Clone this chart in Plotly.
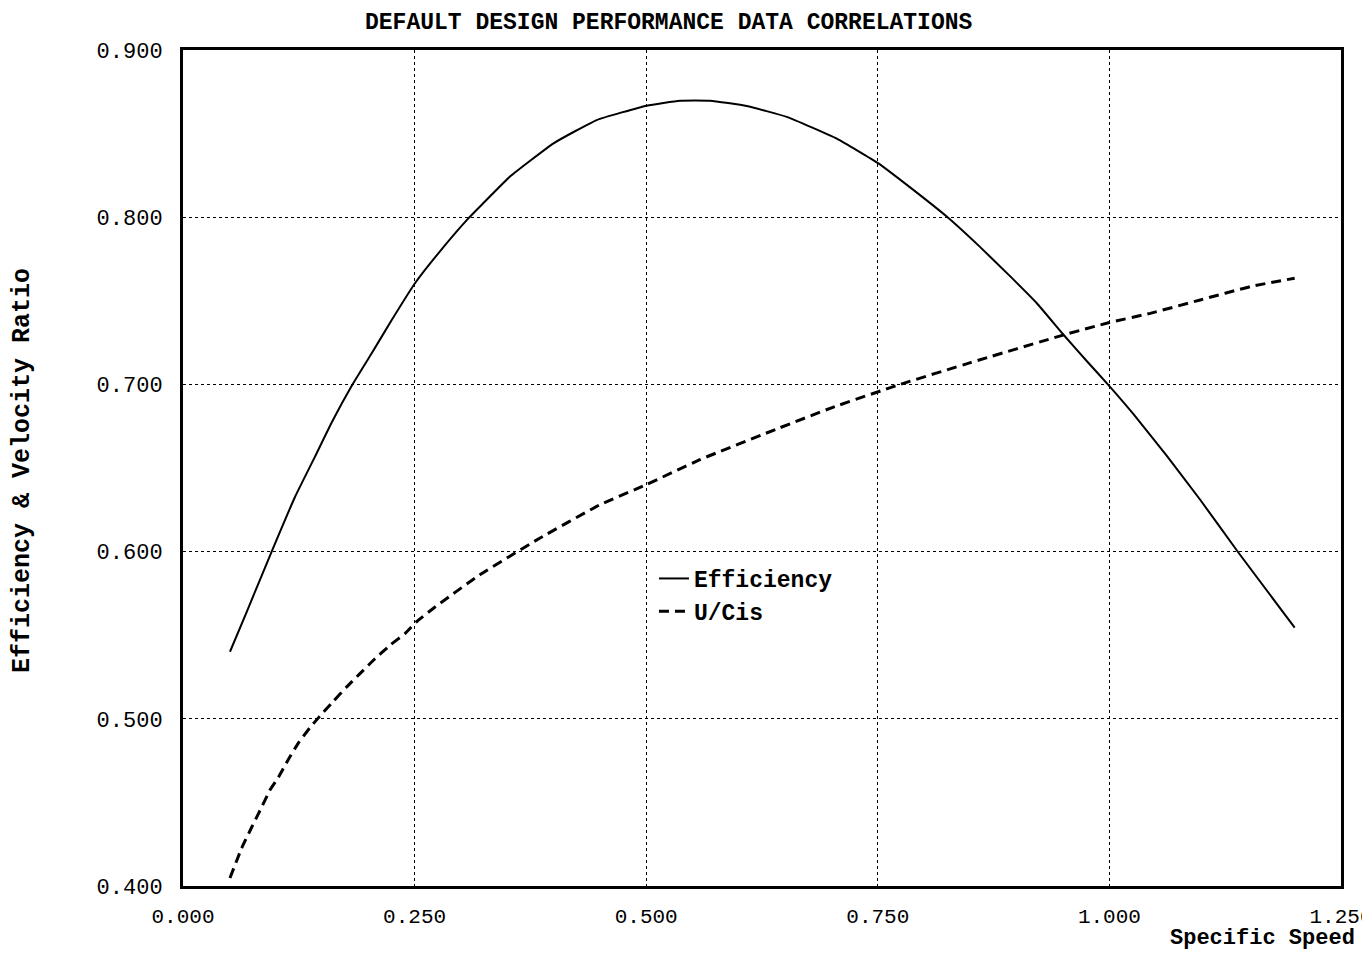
import plotly.graph_objects as go

# Data
specific_speed_eff = [0.0507, 0.0688, 0.0957, 0.121, 0.1425, 0.1605, 0.182, 0.2037, 0.2253,
                      0.2504, 0.2756, 0.308, 0.324, 0.353, 0.400, 0.4466, 0.5005, 0.5365,
                      0.5689, 0.6085, 0.6517, 0.7057, 0.7506, 0.788, 0.8244, 0.860, 0.893,
                      0.921, 0.950, 0.9755, 1.000, 1.026, 1.062, 1.098, 1.139, 1.200]
efficiency = [0.5401, 0.564, 0.600, 0.6328, 0.6568, 0.6772, 0.699, 0.7186, 0.7385,
              0.7605, 0.7784, 0.7993, 0.8083, 0.8243, 0.8442, 0.8581, 0.8667, 0.8697,
              0.8697, 0.8665, 0.8600, 0.8470, 0.8322, 0.8165, 0.8004, 0.7824, 0.7646,
              0.7490, 0.7300, 0.7140, 0.699, 0.6822, 0.6572, 0.6310, 0.5996, 0.5545]

specific_speed_ucis = [0.0507, 0.0634, 0.074, 0.083, 0.094, 0.103, 0.114, 0.1245, 0.137,
                       0.1468, 0.162, 0.1765, 0.191, 0.2055, 0.2235, 0.2396, 0.252, 0.27,
                       0.32, 0.385, 0.45, 0.50, 0.558, 0.644, 0.70, 0.774, 0.85, 0.950,
                       1.000, 1.044, 1.098, 1.152, 1.200]
u_cis = [0.4048, 0.4227, 0.435, 0.445, 0.4575, 0.465, 0.476, 0.4855, 0.4947,
         0.501, 0.5103, 0.519, 0.527, 0.535, 0.544, 0.551, 0.558, 0.566,
         0.586, 0.608, 0.628, 0.640, 0.655, 0.674, 0.686, 0.700, 0.713, 0.7295,
         0.737, 0.7425, 0.7505, 0.7585, 0.7635]

x_ticks = [0.0, 0.25, 0.5, 0.75, 1.0, 1.25]
x_tick_labels = ["0.000", "0.250", "0.500", "0.750", "1.000", "1.250"]
y_ticks = [0.4, 0.5, 0.6, 0.7, 0.8, 0.9]
y_tick_labels = ["0.400", "0.500", "0.600", "0.700", "0.800", "0.900"]

FONT = "Liberation Mono"

fig = go.Figure()
fig.add_trace(go.Scatter(x=specific_speed_eff, y=efficiency, mode="lines", name="Efficiency",
                         line=dict(color="black", width=2, shape="spline", smoothing=0.4)))
fig.add_trace(go.Scatter(x=specific_speed_ucis, y=u_cis, mode="lines", name="U/Cis",
                         line=dict(color="black", width=3, dash="10px,6px", shape="spline",
                                   smoothing=0.4)))

axis_common = dict(showline=True, linecolor="black", linewidth=3, mirror=True,
                   showgrid=True, gridcolor="black", gridwidth=1, griddash="dot",
                   zeroline=False, ticks="", automargin=False)

fig.update_xaxes(range=[0, 1.25], tickvals=x_ticks, ticktext=x_tick_labels,
                 ticklabelstandoff=9, ticklabeloverflow="allow",
                 tickfont=dict(family=FONT, size=21, color="black"), **axis_common)
fig.update_yaxes(range=[0.4, 0.9], tickvals=y_ticks, ticktext=y_tick_labels,
                 ticklabelstandoff=13,
                 tickfont=dict(family=FONT, size=22, color="black"), **axis_common)

fig.update_layout(
    width=1354, height=945,
    margin=dict(l=175, r=21, t=42, b=67),
    plot_bgcolor="white", paper_bgcolor="white",
    showlegend=True,
    legend=dict(x=0.4067, y=(886 - 557) / 836, xanchor="left", yanchor="top",
                bgcolor="rgba(0,0,0,0)",
                font=dict(family=FONT, size=23, color="black", weight="bold"),
                itemwidth=30, tracegroupgap=0),
    annotations=[
        dict(text="DEFAULT DESIGN PERFORMANCE DATA CORRELATIONS", xref="paper", yref="paper",
             x=(668 - 183) / 1158, y=1 + (50 - 8) / 836, xanchor="center", yanchor="top",
             showarrow=False, font=dict(family=FONT, size=23, color="black", weight="bold")),
        dict(text="Specific Speed", xref="paper", yref="paper",
             x=(1357 - 183) / 1158, y=-(953 - 886) / 836, xanchor="right", yanchor="bottom",
             showarrow=False, font=dict(family=FONT, size=22, color="black", weight="bold")),
        dict(text="Efficiency & Velocity Ratio", xref="paper", yref="paper",
             x=-(183 - 22) / 1158, y=(886 - 470) / 836, xanchor="center", yanchor="middle",
             textangle=-90, showarrow=False,
             font=dict(family=FONT, size=25, color="black", weight="bold")),
    ],
)

fig.write_html("out.html")
